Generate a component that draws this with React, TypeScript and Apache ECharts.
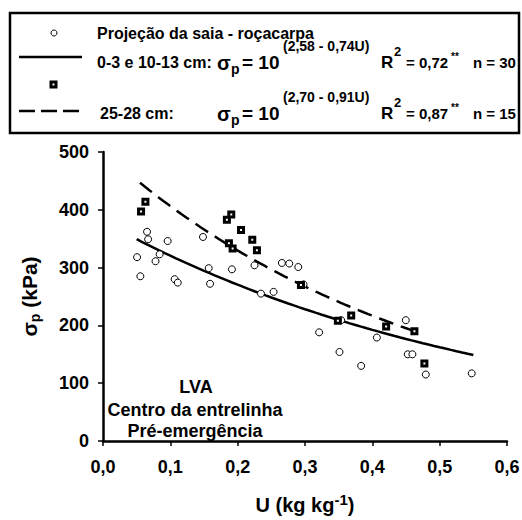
import React, { useEffect, useRef } from "react";
import * as echarts from "echarts";

// Moisture (U, kg/kg) and preconsolidation pressure (σp, kPa)
const circleU = [
  0.0654, 0.067, 0.096, 0.1485, 0.0506, 0.0841, 0.078, 0.0555, 0.1064, 0.111,
  0.157, 0.159, 0.1915, 0.225, 0.2346, 0.2657, 0.2766, 0.29, 0.2978, 0.2533,
  0.3537, 0.321, 0.3512, 0.3834, 0.4067, 0.4497, 0.4526, 0.4595, 0.4794, 0.5476,
];
const circleSigma = [
  362, 349, 346, 353, 318, 323, 311, 285, 280, 274,
  299, 272, 297, 304, 255, 308, 307, 301, 271, 258,
  209, 188, 154, 130, 179, 209, 150, 150, 115, 117,
];

const squareU = [
  0.063, 0.0565, 0.1905, 0.184, 0.205, 0.2217, 0.2286, 0.187, 0.1925, 0.294,
  0.3488, 0.3686, 0.4205, 0.4625, 0.4773,
];
const squareSigma = [
  414, 397, 392, 383, 365, 348, 330, 342, 333, 270,
  208, 217, 198, 190, 134,
];

// Fitted models σp = 10^(a - b·U) and the U range each one covers
const fitShallow = [2.58, 0.74];
const fitShallowRange = [0.05, 0.55];
const fitDeep = [2.7, 0.91];
const fitDeepRange = [0.055, 0.47];

const xTicks = { min: 0, max: 0.6, step: 0.1 };
const yTicks = { min: 0, max: 500, step: 100 };

const FONT = "'Liberation Sans', Arial, sans-serif";

function fitCurve(coef: number[], range: number[]): number[][] {
  const pts: number[][] = [];
  const n = 60;
  for (let i = 0; i <= n; i++) {
    const u = range[0] + ((range[1] - range[0]) * i) / n;
    pts.push([u, Math.pow(10, coef[0] - coef[1] * u)]);
  }
  return pts;
}

function txt(
  text: string,
  x: number,
  y: number,
  size: number,
  align: "left" | "center" | "right" = "left"
) {
  return {
    type: "text",
    x,
    y,
    style: {
      text,
      fill: "#000",
      font: `bold ${size}px ${FONT}`,
      textAlign: align,
      textVerticalAlign: "middle",
    },
    z: 100,
  };
}

function legendRow(
  label: string,
  labelX: number,
  y: number,
  expo: string,
  r2: string,
  n: string
) {
  return [
    txt(label, labelX, y, 16),
    txt("σ", 217, y + 1, 20),
    txt("p", 231, y + 7, 14),
    txt("= 10", 242, y, 19),
    txt(expo, 283, y - 16, 14),
    txt("R", 381, y, 17),
    txt("2", 394, y - 11, 13),
    txt("= " + r2, 406, y, 15),
    txt("**", 451, y - 6, 10),
    txt(n, 473, y, 15),
  ];
}

export default function App() {
  const ref = useRef<HTMLDivElement>(null);

  useEffect(() => {
    if (!ref.current) return;
    const chart = echarts.init(ref.current, null, { renderer: "svg" });

    const labelFmt = (v: number) => v.toFixed(1).replace(".", ",");

    chart.setOption({
      animation: false,
      backgroundColor: "#fff",
      grid: { left: 103, right: 15, top: 152, bottom: 79, outerBoundsMode: "none" },
      xAxis: {
        type: "value",
        min: xTicks.min,
        max: xTicks.max,
        interval: xTicks.step,
        name: "U (kg kg{sup|-1})",
        nameLocation: "middle",
        nameGap: 51,
        nameTextStyle: {
          color: "#000",
          fontFamily: FONT,
          fontWeight: "bold",
          fontSize: 20,
          lineHeight: 26,
          rich: {
            sup: {
              fontFamily: FONT,
              fontWeight: "bold",
              fontSize: 15,
              lineHeight: 14,
              verticalAlign: "top",
              color: "#000",
            },
          },
        },
        axisLine: { lineStyle: { color: "#000", width: 2.5 } },
        axisTick: { show: true, inside: false, length: 5, lineStyle: { color: "#000", width: 1.5 } },
        axisLabel: {
          color: "#000",
          fontFamily: FONT,
          fontWeight: "bold",
          fontSize: 18,
          margin: 17,
          formatter: labelFmt,
        },
        splitLine: { show: false },
      },
      yAxis: {
        type: "value",
        min: yTicks.min,
        max: yTicks.max,
        interval: yTicks.step,
        name: "σ{sub|p} (kPa)",
        nameLocation: "middle",
        nameRotate: 90,
        nameGap: 61,
        nameTextStyle: {
          color: "#000",
          fontFamily: FONT,
          fontWeight: "bold",
          fontSize: 21,
          lineHeight: 26,
          rich: {
            sub: {
              fontFamily: FONT,
              fontWeight: "bold",
              fontSize: 14,
              lineHeight: 14,
              verticalAlign: "bottom",
              color: "#000",
            },
          },
        },
        axisLine: { show: true, lineStyle: { color: "#000", width: 2.5 } },
        axisTick: { show: true, inside: false, length: 5, lineStyle: { color: "#000", width: 1.5 } },
        axisLabel: {
          color: "#000",
          fontFamily: FONT,
          fontWeight: "bold",
          fontSize: 18,
          margin: 14,
        },
        splitLine: { show: false },
      },
      series: [
        {
          type: "line",
          data: fitCurve(fitShallow, fitShallowRange),
          showSymbol: false,
          smooth: false,
          lineStyle: { color: "#000", width: 2.5, type: "solid" },
          z: 2,
        },
        {
          type: "line",
          data: fitCurve(fitDeep, fitDeepRange),
          showSymbol: false,
          smooth: false,
          lineStyle: { color: "#000", width: 2.5, type: [15, 8] },
          z: 2,
        },
        {
          type: "scatter",
          data: circleU.map((u, i) => [u, circleSigma[i]]),
          symbol: "circle",
          symbolSize: 7,
          itemStyle: { color: "#fff", borderColor: "#000", borderWidth: 1, opacity: 1 },
          z: 3,
        },
        {
          type: "scatter",
          data: squareU.map((u, i) => [u, squareSigma[i]]),
          symbol: "rect",
          symbolSize: 5,
          itemStyle: { color: "#fff", borderColor: "#000", borderWidth: 3, opacity: 1 },
          z: 4,
        },
      ],
      graphic: [
        {
          type: "rect",
          shape: { x: 10, y: 13, width: 509, height: 120 },
          style: { fill: "none", stroke: "#000", lineWidth: 2.5 },
          z: 90,
        },
        {
          type: "circle",
          shape: { cx: 54, cy: 33, r: 3 },
          style: { fill: "#fff", stroke: "#000", lineWidth: 1 },
          z: 100,
        },
        txt("Projeção da saia - roçacarpa", 97, 33, 16),
        {
          type: "line",
          shape: { x1: 19, y1: 57, x2: 82, y2: 57 },
          style: { stroke: "#000", lineWidth: 2.5 },
          z: 100,
        },
        ...legendRow("0-3 e 10-13 cm:", 97, 62, "(2,58 - 0,74U)", "0,72", "n = 30"),
        {
          type: "rect",
          shape: { x: 51, y: 82, width: 5, height: 5 },
          style: { fill: "#fff", stroke: "#000", lineWidth: 3 },
          z: 100,
        },
        {
          type: "line",
          shape: { x1: 19, y1: 111, x2: 80, y2: 111 },
          style: { stroke: "#000", lineWidth: 2.5, lineDash: [16, 6] },
          z: 100,
        },
        ...legendRow("25-28 cm:", 100, 113, "(2,70 - 0,91U)", "0,87", "n = 15"),
        txt("LVA", 196, 387, 18, "center"),
        txt("Centro da entrelinha", 195, 410, 18, "center"),
        txt("Pré-emergência", 195, 431, 18, "center"),
      ],
    });

    return () => chart.dispose();
  }, []);

  return (
    <div
      ref={ref}
      style={{ position: "fixed", left: 0, top: 0, width: 522, height: 520, background: "#fff" }}
    />
  );
}
